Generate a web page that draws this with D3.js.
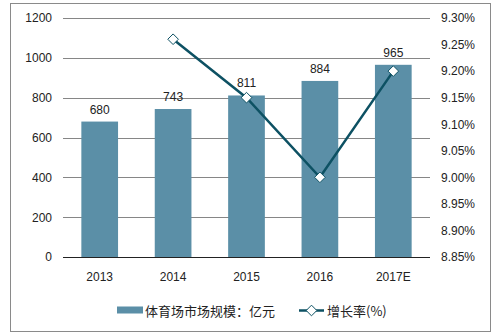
<!DOCTYPE html>
<html><head><meta charset="utf-8">
<script src="https://cdn.jsdelivr.net/npm/d3@7"></script>
<style>
html,body{margin:0;padding:0;background:#fff;}
svg text{font-family:"Liberation Sans",Arial,"Noto Sans CJK SC",sans-serif;fill:#222;}
svg text.cjk{font-family:"Noto Sans CJK SC","Liberation Sans",sans-serif;}
</style></head>
<body><svg id="chart" width="496" height="336"></svg>
<script>
// Stadium market size (亿元) and growth rate
const years = ["2013", "2014", "2015", "2016", "2017E"];
const marketSize = [680, 743, 811, 884, 965];
const growthYears = ["2014", "2015", "2016", "2017E"];
const growthRate = [9.26, 9.15, 9.00, 9.20];
const leftTicks = [0, 200, 400, 600, 800, 1000, 1200];
const rightTicks = [8.85, 8.90, 8.95, 9.00, 9.05, 9.10, 9.15, 9.20, 9.25, 9.30];
const barLabel = "体育场市场规模：亿元";
const lineLabel = "增长率(%)";

const svg = d3.select("#chart");
const m = {left: 63, right: 430, top: 18, bottom: 257};
const barColor = "#5b8fa7", lineColor = "#0d5163";

// outer frame
svg.append("rect").attr("x", 10.5).attr("y", 3.5).attr("width", 480).attr("height", 328)
  .attr("fill", "none").attr("stroke", "#8a8a8a").attr("stroke-width", 1);

const x = d3.scaleBand().domain(years).range([m.left, m.right]).paddingInner(0.5).paddingOuter(0.25);
const y = d3.scaleLinear().domain([0, 1200]).range([m.bottom, m.top]);
const y2 = d3.scaleLinear().domain([8.85, 9.30]).range([m.bottom, m.top]);

// gridlines
svg.append("g").selectAll("line").data(leftTicks.filter(d => d > 0)).join("line")
  .attr("x1", m.left).attr("x2", m.right)
  .attr("y1", d => Math.round(y(d)) + 0.5).attr("y2", d => Math.round(y(d)) + 0.5)
  .attr("stroke", "#868686").attr("stroke-width", 1);

// left axis
const ax = svg.append("g").attr("transform", `translate(${m.left},0)`)
  .call(d3.axisLeft(y).tickValues(leftTicks).tickSize(0).tickPadding(11).tickFormat(d3.format("d")));
ax.select(".domain").remove();
ax.selectAll("text").attr("font-size", 12).attr("fill", "#222");

// right axis
const ar = svg.append("g").attr("transform", `translate(${m.right},0)`)
  .call(d3.axisRight(y2).tickValues(rightTicks).tickSize(0).tickPadding(11).tickFormat(d => d.toFixed(2) + "%"));
ar.select(".domain").remove();
ar.selectAll("text").attr("font-size", 12).attr("fill", "#222");

// bars
svg.append("g").selectAll("rect").data(marketSize).join("rect")
  .attr("x", (d, i) => x(years[i])).attr("width", x.bandwidth())
  .attr("y", d => y(d)).attr("height", d => y(0) - y(d))
  .attr("fill", barColor);

// bar value labels
svg.append("g").selectAll("text").data(marketSize).join("text")
  .attr("x", (d, i) => x(years[i]) + x.bandwidth() / 2).attr("y", d => y(d) - 8)
  .attr("text-anchor", "middle").attr("font-size", 12).text(d => d);

// baseline
svg.append("line").attr("x1", m.left).attr("x2", m.right)
  .attr("y1", m.bottom + 0.5).attr("y2", m.bottom + 0.5).attr("stroke", "#222");

// x labels
svg.append("g").selectAll("text").data(years).join("text")
  .attr("x", d => x(d) + x.bandwidth() / 2).attr("y", 281)
  .attr("text-anchor", "middle").attr("font-size", 12).text(d => d);

// growth line
const cx = d => x(d) + x.bandwidth() / 2;
const pts = growthRate.map((v, i) => [cx(growthYears[i]), y2(v)]);
svg.append("path").attr("d", d3.line()(pts)).attr("fill", "none")
  .attr("stroke", lineColor).attr("stroke-width", 2.5);

const diamond = d3.symbol().type(d3.symbolDiamond2).size(72);
svg.append("g").selectAll("path").data(pts).join("path")
  .attr("transform", d => `translate(${d[0]},${d[1]})`)
  .attr("d", diamond).attr("fill", "#fff").attr("stroke", lineColor).attr("stroke-width", 1);

// legend
const lg = svg.append("g");
lg.append("rect").attr("x", 117).attr("y", 306.5).attr("width", 26).attr("height", 7).attr("fill", barColor);
lg.append("text").attr("class", "cjk").attr("x", 145).attr("y", 315.5).attr("font-size", 13)
  .attr("textLength", 130).attr("lengthAdjust", "spacing").text(barLabel);
lg.append("line").attr("x1", 299).attr("x2", 324).attr("y1", 310.5).attr("y2", 310.5)
  .attr("stroke", lineColor).attr("stroke-width", 2.5);
lg.append("path").attr("transform", "translate(311.5,310.5)").attr("d", diamond)
  .attr("fill", "#fff").attr("stroke", lineColor);
lg.append("text").attr("class", "cjk").attr("x", 327).attr("y", 315.5).attr("font-size", 13).text(lineLabel);
</script></body></html>
